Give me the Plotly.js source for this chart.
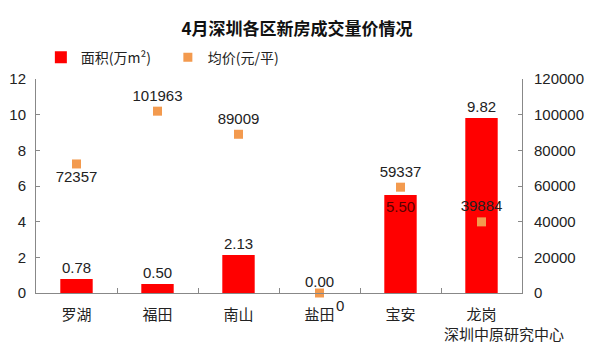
<!DOCTYPE html>
<html>
<head>
<meta charset="utf-8">
<script src="https://cdn.plot.ly/plotly-3.0.1.min.js"></script>
<style>html,body{margin:0;padding:0;background:#fff;}#chart{width:594px;height:351px;}</style>
</head>
<body>
<div id="chart"></div>
<script>
const districts = ["罗湖", "福田", "南山", "盐田", "宝安", "龙岗"];
const areaValues = [0.78, 0.50, 2.13, 0.00, 5.50, 9.82];
const priceValues = [72357, 101963, 89009, 0, 59337, 39884];
const areaLabelPos = ["outside", "outside", "outside", "outside", "inside", "outside"];
const priceLabelPos = ["bottom center", "top center", "top center", "bottom right", "top center", "top center"];
const leftTicks = [0, 2, 4, 6, 8, 10, 12];
const rightTicks = [0, 20000, 40000, 60000, 80000, 100000, 120000];

const numFont = "Liberation Sans, Noto Sans CJK SC, sans-serif";
const cjkFont = "Noto Sans CJK SC, sans-serif";

// the price label for 盐田 sits beside its category label, drawn as an annotation with a small shift
const zeroIdx = priceValues.indexOf(0);

const traces = [
  {
    type: "bar",
    name: "面积(万m²)",
    x: districts,
    y: areaValues,
    width: 0.4,
    marker: {color: "#FF0000"},
    text: areaValues.map(v => v.toFixed(2)),
    textposition: areaLabelPos,
    textangle: 0,
    insidetextanchor: "end",
    constraintext: "none",
    cliponaxis: false,
    textfont: {family: numFont, size: 15, color: "#222"},
    insidetextfont: {family: numFont, size: 15, color: "#5a0000"},
    outsidetextfont: {family: numFont, size: 15, color: "#222"},
    hoverinfo: "none"
  },
  {
    type: "scatter",
    mode: "markers+text",
    name: "均价(元/平)",
    x: districts,
    y: priceValues,
    yaxis: "y2",
    marker: {symbol: "square", size: 9, color: "#F39A4E"},
    text: priceValues.map((v, i) => i === zeroIdx ? "" : String(v)),
    textposition: priceLabelPos,
    cliponaxis: false,
    textfont: {family: numFont, size: 15, color: "#222"},
    hoverinfo: "none"
  }
];

const layout = {
  width: 594,
  height: 351,
  margin: {l: 36, r: 72, t: 79, b: 58},
  paper_bgcolor: "#fff",
  plot_bgcolor: "#fff",
  showlegend: true,
  title: {
    text: "<b>4月深圳各区新房成交量价情况</b>",
    font: {family: cjkFont, size: 17, color: "#111"},
    x: 0.5, xanchor: "center",
    y: 0.918, yanchor: "middle"
  },
  legend: {
    orientation: "h",
    x: 0.01, xanchor: "left",
    y: 1.1, yanchor: "middle",
    font: {family: cjkFont, size: 14, color: "#222"},
    itemwidth: 30,
    entrywidth: 82,
    traceorder: "normal",
    bgcolor: "rgba(0,0,0,0)"
  },
  xaxis: {
    type: "category",
    showline: true, linecolor: "#888", linewidth: 1,
    ticks: "inside", ticklen: 5, tickcolor: "#888", tickson: "boundaries",
    tickfont: {family: cjkFont, size: 15, color: "#222"},
    showgrid: false, zeroline: false,
    ticklabelstandoff: 8
  },
  yaxis: {
    range: [0, 12],
    tickvals: leftTicks,
    showline: true, linecolor: "#888", linewidth: 1,
    ticks: "inside", ticklen: 4, tickcolor: "#888",
    tickfont: {family: numFont, size: 15, color: "#222"},
    showgrid: false, zeroline: false,
    ticklabelstandoff: 6
  },
  yaxis2: {
    range: [0, 120000],
    tickvals: rightTicks,
    ticktext: rightTicks.map(v => String(v)),
    overlaying: "y",
    side: "right",
    showline: true, linecolor: "#888", linewidth: 1,
    ticks: "inside", ticklen: 4, tickcolor: "#888",
    tickfont: {family: numFont, size: 15, color: "#222"},
    showgrid: false, zeroline: false,
    ticklabelstandoff: 8
  },
  annotations: [
    {
      text: String(priceValues[zeroIdx]),
      x: districts[zeroIdx], y: priceValues[zeroIdx],
      xref: "x", yref: "y2",
      xanchor: "left", yanchor: "top",
      xshift: 14, yshift: -2,
      showarrow: false,
      font: {family: numFont, size: 15, color: "#222"}
    },
    {
      text: "深圳中原研究中心",
      xref: "paper", yref: "paper",
      x: 1.09, y: -0.19,
      xanchor: "right", yanchor: "middle",
      showarrow: false,
      font: {family: cjkFont, size: 15, color: "#222"}
    }
  ]
};

Plotly.newPlot("chart", traces, layout, {displayModeBar: false, staticPlot: true});
</script>
</body>
</html>
